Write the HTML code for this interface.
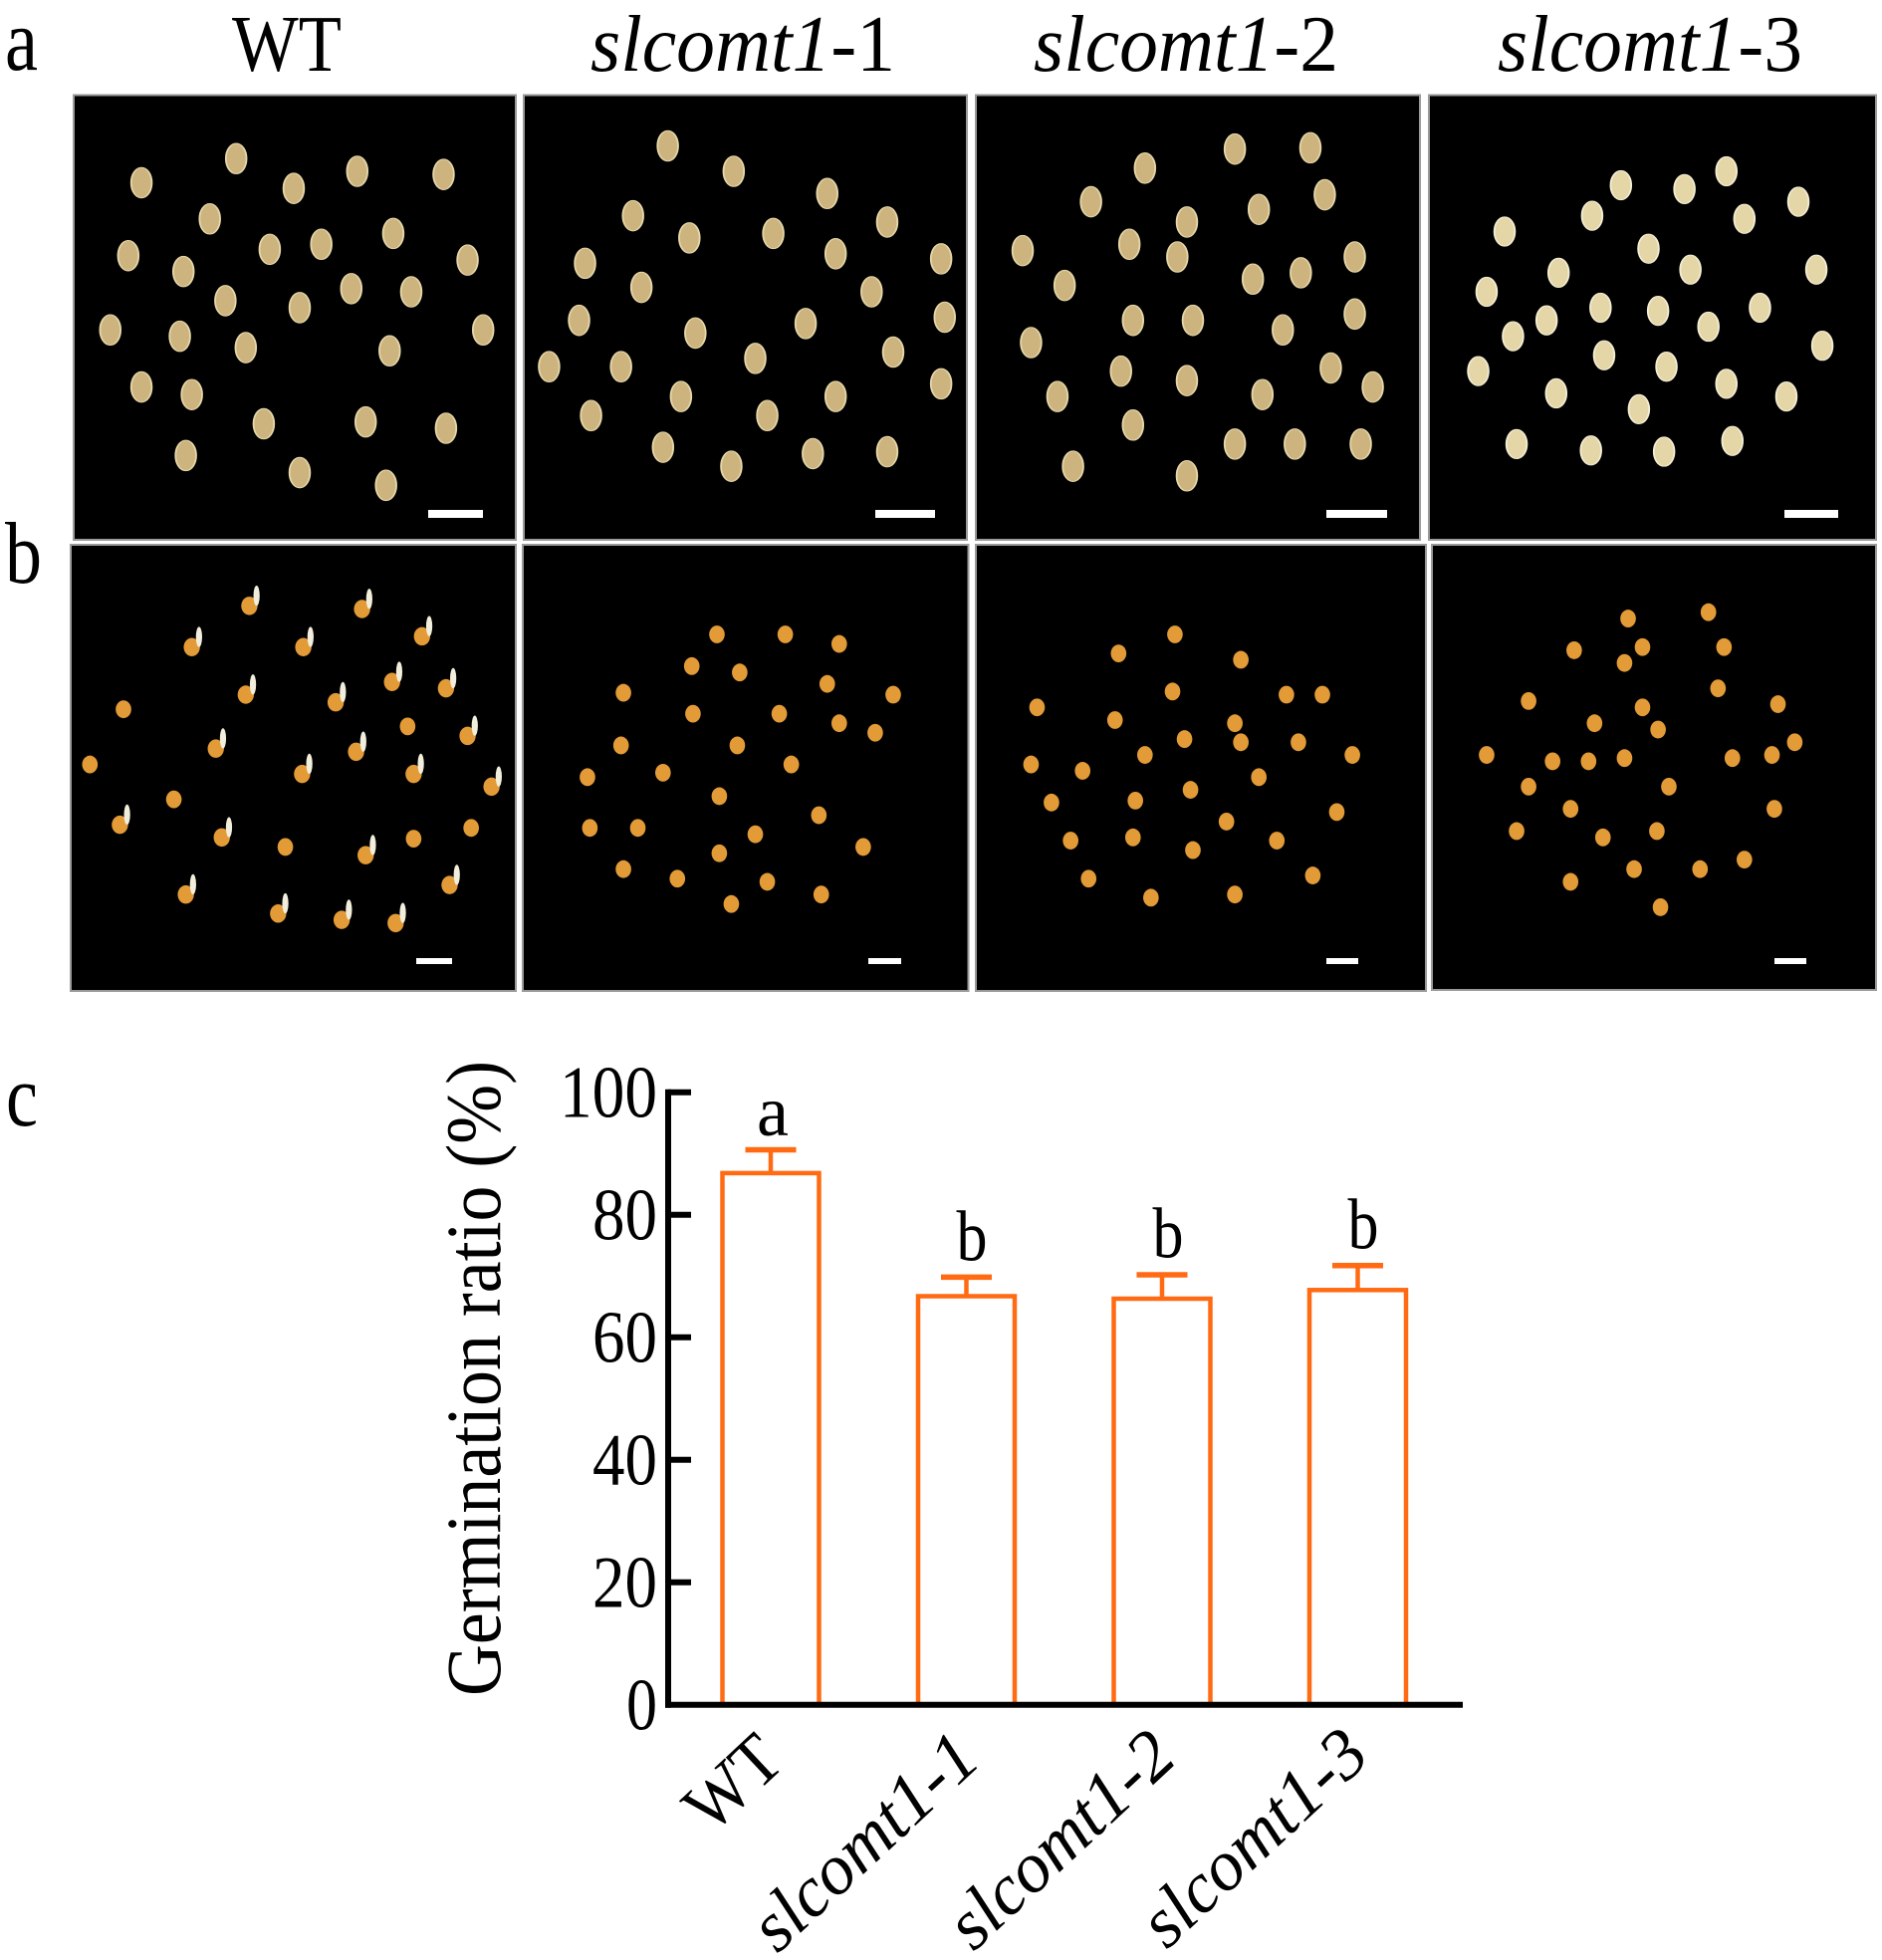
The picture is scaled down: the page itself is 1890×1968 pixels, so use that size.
<!DOCTYPE html>
<html><head><meta charset="utf-8">
<style>
html,body{margin:0;padding:0;background:#fff;}
svg{display:block;}
text{font-family:"Liberation Serif","Times New Roman",serif;fill:#000;}
</style></head>
<body>
<svg width="1890" height="1968" viewBox="0 0 1890 1968" xmlns="http://www.w3.org/2000/svg">
<defs>
  <ellipse id="sa" cx="0" cy="0" rx="8.6" ry="24" fill="#cdb47f" stroke="#e6d8aa" stroke-width="1.5"/>
  <ellipse id="sa4" cx="0" cy="0" rx="8.6" ry="23" fill="#e4d6a6" stroke="#f4eed6" stroke-width="1.5"/>
  <ellipse id="sb" cx="0" cy="0" rx="6.5" ry="14" fill="#e39b37"/>
  <g id="sbw"><ellipse cx="0" cy="0" rx="6.8" ry="14.5" fill="#e39b37"/><ellipse cx="6" cy="-16" rx="2.6" ry="16" fill="#f2eedc"/></g>
</defs>

<!-- panel labels -->
<text x="5" y="70" font-size="88" textLength="33" lengthAdjust="spacingAndGlyphs">a</text>
<text x="5" y="585" font-size="88" textLength="37" lengthAdjust="spacingAndGlyphs">b</text>
<text x="6" y="1130" font-size="88" textLength="32" lengthAdjust="spacingAndGlyphs">c</text>

<!-- titles -->
<text x="288" y="71" font-size="80" text-anchor="middle" textLength="110" lengthAdjust="spacingAndGlyphs">WT</text>
<text x="746" y="71" font-size="80" text-anchor="middle" textLength="306" lengthAdjust="spacingAndGlyphs"><tspan font-style="italic">slcomt1</tspan>-1</text>
<text x="1191" y="71" font-size="80" text-anchor="middle" textLength="306" lengthAdjust="spacingAndGlyphs"><tspan font-style="italic">slcomt1</tspan>-2</text>
<text x="1657" y="71" font-size="80" text-anchor="middle" textLength="306" lengthAdjust="spacingAndGlyphs"><tspan font-style="italic">slcomt1</tspan>-3</text>

<!-- photo panels -->
<g fill="#000" stroke="#9a9a9a" stroke-width="2">
  <rect x="74" y="95.5" width="444" height="446.5"/>
  <rect x="526" y="95.5" width="445" height="446.5"/>
  <rect x="980" y="95.5" width="446" height="446.5"/>
  <rect x="1435" y="95.5" width="449" height="446.5"/>
  <rect x="71" y="547" width="447" height="448"/>
  <rect x="525" y="547" width="447.5" height="448"/>
  <rect x="980" y="547" width="452" height="448"/>
  <rect x="1438" y="547" width="446" height="447"/>
</g>

<!-- scale bars -->
<g fill="#fff">
  <rect x="430" y="512" width="55" height="8"/>
  <rect x="879" y="512" width="60" height="8"/>
  <rect x="1332" y="512" width="61" height="8"/>
  <rect x="1792" y="512" width="54" height="8"/>
  <rect x="418" y="962" width="36" height="6"/>
  <rect x="872" y="962" width="33" height="6"/>
  <rect x="1332" y="962" width="32" height="6"/>
  <rect x="1782" y="962" width="32" height="6"/>
</g>

<!-- seeds (coordinates in a scaled frame) -->
<g transform="matrix(1.204 0 0 0.637 0 0)">
  <!-- panel a1 -->
  <use href="#sa" x="118" y="288"/><use href="#sa" x="197" y="250"/><use href="#sa" x="245" y="297"/><use href="#sa" x="298" y="270"/><use href="#sa" x="370" y="275"/>
  <use href="#sa" x="175" y="345"/><use href="#sa" x="328" y="368"/><use href="#sa" x="107" y="403"/><use href="#sa" x="153" y="428"/><use href="#sa" x="225" y="393"/>
  <use href="#sa" x="268" y="385"/><use href="#sa" x="390" y="410"/><use href="#sa" x="188" y="474"/><use href="#sa" x="250" y="485"/><use href="#sa" x="293" y="455"/>
  <use href="#sa" x="343" y="460"/><use href="#sa" x="92" y="520"/><use href="#sa" x="150" y="530"/><use href="#sa" x="205" y="548"/><use href="#sa" x="325" y="553"/>
  <use href="#sa" x="403" y="520"/><use href="#sa" x="118" y="610"/><use href="#sa" x="160" y="622"/><use href="#sa" x="220" y="668"/><use href="#sa" x="305" y="665"/>
  <use href="#sa" x="372" y="675"/><use href="#sa" x="155" y="718"/><use href="#sa" x="250" y="745"/><use href="#sa" x="322" y="765"/>
  <!-- panel a2 -->
  <use href="#sa" x="557" y="230"/><use href="#sa" x="612" y="270"/><use href="#sa" x="690" y="305"/><use href="#sa" x="528" y="340"/><use href="#sa" x="575" y="375"/>
  <use href="#sa" x="645" y="368"/><use href="#sa" x="740" y="350"/><use href="#sa" x="785" y="408"/><use href="#sa" x="488" y="415"/><use href="#sa" x="535" y="453"/>
  <use href="#sa" x="697" y="400"/><use href="#sa" x="727" y="460"/><use href="#sa" x="580" y="525"/><use href="#sa" x="672" y="510"/><use href="#sa" x="788" y="500"/>
  <use href="#sa" x="483" y="505"/><use href="#sa" x="630" y="565"/><use href="#sa" x="745" y="555"/><use href="#sa" x="458" y="578"/><use href="#sa" x="518" y="578"/>
  <use href="#sa" x="568" y="625"/><use href="#sa" x="697" y="625"/><use href="#sa" x="785" y="605"/><use href="#sa" x="493" y="655"/><use href="#sa" x="640" y="655"/>
  <use href="#sa" x="553" y="705"/><use href="#sa" x="610" y="735"/><use href="#sa" x="678" y="715"/><use href="#sa" x="740" y="712"/>
  <!-- panel a3 -->
  <use href="#sa" x="1030" y="235"/><use href="#sa" x="1093" y="233"/><use href="#sa" x="955" y="265"/><use href="#sa" x="910" y="318"/><use href="#sa" x="1050" y="330"/>
  <use href="#sa" x="1105" y="307"/><use href="#sa" x="990" y="350"/><use href="#sa" x="942" y="385"/><use href="#sa" x="982" y="405"/><use href="#sa" x="853" y="395"/>
  <use href="#sa" x="1045" y="440"/><use href="#sa" x="1085" y="430"/><use href="#sa" x="888" y="450"/><use href="#sa" x="1130" y="405"/><use href="#sa" x="945" y="505"/>
  <use href="#sa" x="995" y="505"/><use href="#sa" x="1070" y="520"/><use href="#sa" x="1130" y="495"/><use href="#sa" x="860" y="540"/><use href="#sa" x="935" y="585"/>
  <use href="#sa" x="990" y="600"/><use href="#sa" x="1110" y="580"/><use href="#sa" x="882" y="625"/><use href="#sa" x="1053" y="622"/><use href="#sa" x="1145" y="610"/>
  <use href="#sa" x="945" y="670"/><use href="#sa" x="1030" y="700"/><use href="#sa" x="1080" y="700"/><use href="#sa" x="1135" y="700"/><use href="#sa" x="895" y="735"/><use href="#sa" x="990" y="750"/>
  <!-- panel a4 -->
  <use href="#sa4" x="1440" y="270"/><use href="#sa4" x="1352" y="292"/><use href="#sa4" x="1405" y="298"/><use href="#sa4" x="1500" y="318"/><use href="#sa4" x="1328" y="340"/>
  <use href="#sa4" x="1455" y="345"/><use href="#sa4" x="1255" y="365"/><use href="#sa4" x="1375" y="392"/><use href="#sa4" x="1515" y="425"/><use href="#sa4" x="1300" y="430"/>
  <use href="#sa4" x="1410" y="425"/><use href="#sa4" x="1468" y="485"/><use href="#sa4" x="1240" y="460"/><use href="#sa4" x="1335" y="485"/><use href="#sa4" x="1290" y="505"/>
  <use href="#sa4" x="1383" y="490"/><use href="#sa4" x="1425" y="515"/><use href="#sa4" x="1520" y="545"/><use href="#sa4" x="1262" y="530"/><use href="#sa4" x="1338" y="560"/>
  <use href="#sa4" x="1390" y="578"/><use href="#sa4" x="1233" y="585"/><use href="#sa4" x="1298" y="620"/><use href="#sa4" x="1440" y="605"/><use href="#sa4" x="1490" y="625"/>
  <use href="#sa4" x="1367" y="645"/><use href="#sa4" x="1265" y="700"/><use href="#sa4" x="1327" y="710"/><use href="#sa4" x="1388" y="712"/><use href="#sa4" x="1445" y="695"/>
  <!-- panel b1 -->
  <use href="#sbw" x="208" y="955"/><use href="#sbw" x="302" y="960"/><use href="#sbw" x="160" y="1020"/><use href="#sbw" x="253" y="1020"/><use href="#sbw" x="352" y="1003"/>
  <use href="#sbw" x="327" y="1075"/><use href="#sbw" x="372" y="1085"/><use href="#sbw" x="205" y="1095"/><use href="#sbw" x="280" y="1107"/><use href="#sb" x="103" y="1118"/>
  <use href="#sbw" x="180" y="1180"/><use href="#sb" x="340" y="1145"/><use href="#sbw" x="390" y="1160"/><use href="#sbw" x="297" y="1185"/><use href="#sb" x="75" y="1205"/>
  <use href="#sbw" x="252" y="1220"/><use href="#sbw" x="345" y="1220"/><use href="#sbw" x="410" y="1240"/><use href="#sb" x="145" y="1260"/><use href="#sbw" x="100" y="1300"/>
  <use href="#sbw" x="185" y="1320"/><use href="#sb" x="238" y="1335"/><use href="#sbw" x="305" y="1348"/><use href="#sb" x="345" y="1322"/><use href="#sb" x="393" y="1305"/>
  <use href="#sbw" x="155" y="1410"/><use href="#sbw" x="232" y="1440"/><use href="#sbw" x="285" y="1450"/><use href="#sbw" x="330" y="1455"/><use href="#sbw" x="375" y="1395"/>
  <!-- panel b2 -->
  <use href="#sb" x="598" y="1000"/><use href="#sb" x="655" y="1000"/><use href="#sb" x="700" y="1015"/><use href="#sb" x="577" y="1050"/><use href="#sb" x="617" y="1060"/>
  <use href="#sb" x="690" y="1078"/><use href="#sb" x="520" y="1092"/><use href="#sb" x="745" y="1095"/><use href="#sb" x="578" y="1125"/><use href="#sb" x="650" y="1125"/>
  <use href="#sb" x="700" y="1140"/><use href="#sb" x="730" y="1155"/><use href="#sb" x="518" y="1175"/><use href="#sb" x="615" y="1175"/><use href="#sb" x="660" y="1205"/>
  <use href="#sb" x="490" y="1225"/><use href="#sb" x="553" y="1218"/><use href="#sb" x="600" y="1255"/><use href="#sb" x="683" y="1285"/><use href="#sb" x="492" y="1305"/>
  <use href="#sb" x="532" y="1305"/><use href="#sb" x="630" y="1315"/><use href="#sb" x="720" y="1335"/><use href="#sb" x="600" y="1345"/><use href="#sb" x="520" y="1370"/>
  <use href="#sb" x="565" y="1385"/><use href="#sb" x="640" y="1390"/><use href="#sb" x="610" y="1425"/><use href="#sb" x="685" y="1410"/>
  <!-- panel b3 -->
  <use href="#sb" x="980" y="1000"/><use href="#sb" x="933" y="1030"/><use href="#sb" x="1035" y="1040"/><use href="#sb" x="978" y="1090"/><use href="#sb" x="1073" y="1095"/>
  <use href="#sb" x="1103" y="1095"/><use href="#sb" x="865" y="1115"/><use href="#sb" x="930" y="1135"/><use href="#sb" x="1030" y="1140"/><use href="#sb" x="988" y="1165"/>
  <use href="#sb" x="1035" y="1170"/><use href="#sb" x="1083" y="1170"/><use href="#sb" x="955" y="1190"/><use href="#sb" x="1128" y="1190"/><use href="#sb" x="860" y="1205"/>
  <use href="#sb" x="903" y="1215"/><use href="#sb" x="1050" y="1225"/><use href="#sb" x="993" y="1245"/><use href="#sb" x="877" y="1265"/><use href="#sb" x="947" y="1262"/>
  <use href="#sb" x="1115" y="1280"/><use href="#sb" x="1023" y="1295"/><use href="#sb" x="1065" y="1325"/><use href="#sb" x="893" y="1325"/><use href="#sb" x="945" y="1320"/>
  <use href="#sb" x="995" y="1340"/><use href="#sb" x="908" y="1385"/><use href="#sb" x="960" y="1415"/><use href="#sb" x="1030" y="1410"/><use href="#sb" x="1095" y="1380"/>
  <!-- panel b4 -->
  <use href="#sb" x="1358" y="975"/><use href="#sb" x="1425" y="965"/><use href="#sb" x="1313" y="1025"/><use href="#sb" x="1370" y="1020"/><use href="#sb" x="1438" y="1020"/>
  <use href="#sb" x="1355" y="1045"/><use href="#sb" x="1275" y="1105"/><use href="#sb" x="1370" y="1115"/><use href="#sb" x="1433" y="1085"/><use href="#sb" x="1483" y="1110"/>
  <use href="#sb" x="1330" y="1140"/><use href="#sb" x="1383" y="1150"/><use href="#sb" x="1497" y="1170"/><use href="#sb" x="1240" y="1190"/><use href="#sb" x="1295" y="1200"/>
  <use href="#sb" x="1325" y="1200"/><use href="#sb" x="1355" y="1195"/><use href="#sb" x="1392" y="1240"/><use href="#sb" x="1445" y="1195"/><use href="#sb" x="1275" y="1240"/>
  <use href="#sb" x="1478" y="1190"/><use href="#sb" x="1310" y="1275"/><use href="#sb" x="1480" y="1275"/><use href="#sb" x="1265" y="1310"/><use href="#sb" x="1337" y="1320"/>
  <use href="#sb" x="1382" y="1310"/><use href="#sb" x="1418" y="1370"/><use href="#sb" x="1455" y="1355"/><use href="#sb" x="1310" y="1390"/><use href="#sb" x="1363" y="1370"/><use href="#sb" x="1385" y="1430"/>
</g>

<!-- ===== Chart c ===== -->
<!-- bars -->
<g fill="#fff" stroke="#ff6a13" stroke-width="4.5">
  <rect x="725.5" y="1177.9" width="97" height="533.8"/>
  <rect x="922" y="1301.5" width="97" height="410.2"/>
  <rect x="1118.5" y="1304" width="97" height="407.7"/>
  <rect x="1315" y="1295.3" width="97" height="416.4"/>
</g>
<!-- error bars -->
<g stroke="#ff6a13" fill="none">
  <line x1="774" y1="1177.9" x2="774" y2="1154.5" stroke-width="4.5"/>
  <line x1="748.5" y1="1154.5" x2="799.5" y2="1154.5" stroke-width="5.5"/>
  <line x1="970.5" y1="1301.5" x2="970.5" y2="1282.4" stroke-width="4.5"/>
  <line x1="945" y1="1282.4" x2="996" y2="1282.4" stroke-width="5.5"/>
  <line x1="1167" y1="1304" x2="1167" y2="1280" stroke-width="4.5"/>
  <line x1="1141.5" y1="1280" x2="1192.5" y2="1280" stroke-width="5.5"/>
  <line x1="1363.5" y1="1295.3" x2="1363.5" y2="1270.7" stroke-width="4.5"/>
  <line x1="1338" y1="1270.7" x2="1389" y2="1270.7" stroke-width="5.5"/>
</g>

<!-- axes -->
<g stroke="#000" stroke-width="6" fill="none">
  <line x1="671" y1="1093.7" x2="671" y2="1714.7"/>
  <line x1="668" y1="1711.7" x2="1469" y2="1711.7"/>
  <line x1="671" y1="1096.7" x2="694" y2="1096.7"/>
  <line x1="671" y1="1219.7" x2="694" y2="1219.7"/>
  <line x1="671" y1="1342.7" x2="694" y2="1342.7"/>
  <line x1="671" y1="1465.7" x2="694" y2="1465.7"/>
  <line x1="671" y1="1588.7" x2="694" y2="1588.7"/>
</g>

<!-- tick labels -->
<g font-size="74" text-anchor="end">
  <text x="660" y="1121.7" textLength="98" lengthAdjust="spacingAndGlyphs">100</text>
  <text x="660" y="1244.7" textLength="65" lengthAdjust="spacingAndGlyphs">80</text>
  <text x="660" y="1367.7" textLength="65" lengthAdjust="spacingAndGlyphs">60</text>
  <text x="660" y="1490.7" textLength="65" lengthAdjust="spacingAndGlyphs">40</text>
  <text x="660" y="1613.7" textLength="65" lengthAdjust="spacingAndGlyphs">20</text>
  <text x="660" y="1736.7" textLength="31" lengthAdjust="spacingAndGlyphs">0</text>
</g>

<!-- y label -->
<text transform="translate(502 1384) rotate(-90)" x="0" y="0" font-size="78" text-anchor="middle" textLength="638" lengthAdjust="spacingAndGlyphs">Germination ratio (%)</text>

<!-- significance letters -->
<g font-size="72" text-anchor="middle">
  <text x="776" y="1140" textLength="32" lengthAdjust="spacingAndGlyphs">a</text>
  <text x="976" y="1265.5" textLength="31" lengthAdjust="spacingAndGlyphs">b</text>
  <text x="1173" y="1262.5" textLength="31" lengthAdjust="spacingAndGlyphs">b</text>
  <text x="1369" y="1253.5" textLength="31" lengthAdjust="spacingAndGlyphs">b</text>
</g>

<!-- x labels -->
<g font-size="72" text-anchor="end">
  <text transform="translate(790 1772) rotate(-43)" textLength="104" lengthAdjust="spacingAndGlyphs">WT</text>
  <text transform="translate(987 1770) rotate(-43)" font-style="italic" textLength="282" lengthAdjust="spacingAndGlyphs">slcomt1-1</text>
  <text transform="translate(1184 1768) rotate(-43)" font-style="italic" textLength="282" lengthAdjust="spacingAndGlyphs">slcomt1-2</text>
  <text transform="translate(1378 1766) rotate(-43)" font-style="italic" textLength="282" lengthAdjust="spacingAndGlyphs">slcomt1-3</text>
</g>
</svg>
</body></html>
